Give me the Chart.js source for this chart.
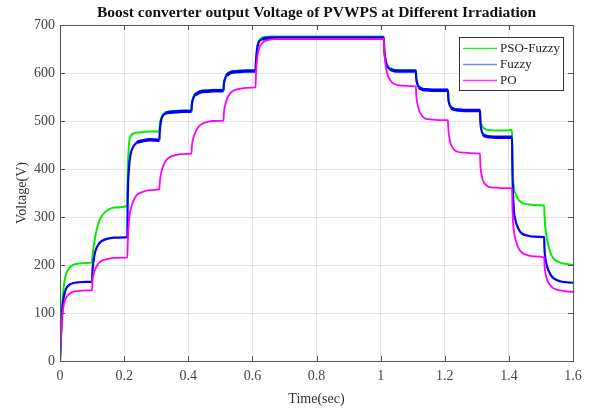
<!DOCTYPE html>
<html><head><meta charset="utf-8">
<script src="https://cdn.jsdelivr.net/npm/chart.js@4/dist/chart.umd.min.js"></script>
<style>html,body{margin:0;padding:0;background:#fff}#wrap{width:595px;height:410px;position:relative}</style>
</head><body><div id="wrap"><canvas id="c" width="595" height="410"></canvas></div>
<script>
const chartTitle = 'Boost converter output Voltage of PVWPS at Different Irradiation';
const xTitle = 'Time(sec)';
const yTitle = 'Voltage(V)';
const seriesNames = ['PSO-Fuzzy', 'Fuzzy', 'PO'];
const seriesColors = ['#00ee00', '#0000ff', '#ff00ff'];
const legendColors = ['#33e633', '#8080ff', '#ff33ff'];
const xTickValues = [0, 0.2, 0.4, 0.6, 0.8, 1, 1.2, 1.4, 1.6];
const xTickLabels = ['0', '0.2', '0.4', '0.6', '0.8', '1', '1.2', '1.4', '1.6'];
const yTickValues = [0, 100, 200, 300, 400, 500, 600, 700];

const times = [
  0, 0.003, 0.006, 0.01, 0.015, 0.02, 0.03, 0.04, 0.06, 0.08, 0.1,
  0.101, 0.105, 0.11, 0.12, 0.13, 0.15, 0.17, 0.21,
  0.211, 0.215, 0.22, 0.23, 0.24, 0.26, 0.28, 0.31,
  0.311, 0.315, 0.32, 0.33, 0.34, 0.36, 0.38, 0.41,
  0.411, 0.415, 0.42, 0.43, 0.44, 0.46, 0.48, 0.51,
  0.511, 0.515, 0.52, 0.53, 0.54, 0.56, 0.58, 0.61,
  0.611, 0.615, 0.62, 0.63, 0.64, 0.66, 0.68, 1.01,
  1.011, 1.015, 1.02, 1.03, 1.04, 1.06, 1.08, 1.11,
  1.111, 1.115, 1.12, 1.13, 1.14, 1.16, 1.18, 1.21,
  1.211, 1.215, 1.22, 1.23, 1.24, 1.26, 1.28, 1.31,
  1.311, 1.315, 1.32, 1.33, 1.34, 1.36, 1.38, 1.41,
  1.411, 1.415, 1.42, 1.43, 1.44, 1.46, 1.48, 1.51,
  1.511, 1.515, 1.52, 1.53, 1.54, 1.56, 1.58, 1.6
];
const psoFuzzy = [
  0, 60, 110, 145, 170, 183, 195, 200, 203, 204, 205,
  215, 238, 260, 287, 302, 315, 320, 323,
  380, 450, 468, 474, 476, 477, 478, 478,
  490, 505, 513, 518, 520, 521, 522, 522,
  535, 548, 555, 560, 563, 564, 565, 565,
  578, 590, 597, 602, 604, 605, 606, 606,
  625, 655, 667, 673, 675, 676, 676, 676,
  655, 630, 618, 610, 607, 606, 606, 606,
  592, 578, 572, 567, 566, 565, 565, 565,
  550, 536, 530, 525, 524, 523, 523, 523,
  505, 492, 486, 482, 481, 480, 480, 481,
  420, 365, 350, 336, 330, 326, 325, 324,
  305, 270, 250, 225, 213, 205, 202, 200
];
const fuzzy = [
  0, 50, 95, 125, 143, 152, 159, 162, 164, 165, 165,
  185, 210, 228, 243, 250, 255, 257, 258,
  330, 400, 430, 448, 455, 459, 461, 460,
  475, 500, 510, 516, 518, 519, 520, 520,
  532, 546, 553, 558, 561, 562, 563, 563,
  575, 588, 595, 600, 602, 603, 604, 604,
  620, 650, 664, 670, 672, 673, 673, 673,
  653, 628, 615, 608, 605, 604, 604, 604,
  590, 576, 570, 566, 565, 564, 564, 564,
  548, 534, 528, 524, 523, 522, 522, 522,
  500, 480, 472, 468, 467, 466, 466, 466,
  400, 320, 295, 275, 266, 261, 259, 258,
  235, 210, 195, 180, 172, 166, 164, 163
];
const po = [
  0, 45, 85, 110, 125, 133, 140, 144, 146, 147, 147,
  165, 180, 192, 203, 209, 213, 215, 216,
  240, 290, 315, 335, 346, 353, 356, 358,
  370, 390, 403, 417, 424, 429, 431, 432,
  445, 462, 473, 486, 493, 498, 500, 501,
  515, 533, 545, 557, 563, 567, 569, 570,
  595, 630, 650, 662, 667, 670, 671, 671,
  650, 620, 600, 585, 578, 574, 573, 572,
  555, 535, 522, 510, 505, 503, 502, 502,
  485, 462, 450, 440, 436, 434, 433, 432,
  410, 388, 375, 366, 362, 361, 360, 360,
  320, 275, 255, 235, 226, 220, 218, 216,
  200, 180, 168, 157, 151, 147, 145, 144
];

const SERIF = "'Liberation Serif', 'Times New Roman', serif";
const seriesValues = [psoFuzzy, fuzzy, po];
const widths = [2, 2.2, 1.8];
const datasets = seriesNames.map((name, k) => ({
  label: name,
  data: times.map((t, i) => ({x: t, y: seriesValues[k][i]})),
  borderColor: seriesColors[k],
  backgroundColor: seriesColors[k],
  borderWidth: widths[k],
  pointRadius: 0,
  fill: false,
  cubicInterpolationMode: 'monotone',
  order: 3 - k,
  segment: k === 1 ? {
    borderWidth: c => (c.p0.parsed.x >= 0.22 && c.p1.parsed.x <= 1.41 && Math.abs(c.p1.parsed.y - c.p0.parsed.y) < 6) ? 3.4 : 2.2
  } : undefined
}));

const decor = {
  id: 'decor',
  afterDraw(chart) {
    const ctx = chart.ctx, a = chart.chartArea;
    const xs = chart.scales.x, ys = chart.scales.y;
    ctx.save();
    ctx.strokeStyle = '#555';
    ctx.lineWidth = 1;
    ctx.strokeRect(Math.round(a.left) + 0.5, Math.round(a.top) + 0.5, Math.round(a.right - a.left), Math.round(a.bottom - a.top));
    ctx.beginPath();
    xTickValues.forEach(v => {
      const px = Math.round(xs.getPixelForValue(v)) + 0.5;
      ctx.moveTo(px, a.bottom); ctx.lineTo(px, a.bottom - 5);
      ctx.moveTo(px, a.top); ctx.lineTo(px, a.top + 5);
    });
    yTickValues.forEach(v => {
      const py = Math.round(ys.getPixelForValue(v)) + 0.5;
      ctx.moveTo(a.left, py); ctx.lineTo(a.left + 5, py);
      ctx.moveTo(a.right, py); ctx.lineTo(a.right - 5, py);
    });
    ctx.stroke();
    ctx.fillStyle = '#111';
    ctx.font = 'bold 15.5px ' + SERIF;
    ctx.textAlign = 'center';
    ctx.textBaseline = 'middle';
    ctx.fillText(chartTitle, (a.left + a.right) / 2, 13);
    const lx = 459, ly = 37, lw = 104, lh = 53;
    ctx.fillStyle = '#fff';
    ctx.fillRect(lx, ly, lw, lh);
    ctx.strokeStyle = '#333';
    ctx.strokeRect(lx + 0.5, ly + 0.5, lw, lh);
    ctx.font = '13px ' + SERIF;
    ctx.textAlign = 'left';
    seriesNames.forEach((n, k) => {
      const y = ly + 11 + k * 16;
      ctx.strokeStyle = legendColors[k];
      ctx.lineWidth = 1.5;
      ctx.beginPath(); ctx.moveTo(lx + 4, y + 0.5); ctx.lineTo(lx + 38, y + 0.5); ctx.stroke();
      ctx.fillStyle = '#222';
      ctx.fillText(n, lx + 41, y + 1);
    });
    ctx.restore();
  }
};

new Chart(document.getElementById('c'), {
  type: 'line',
  data: {datasets},
  options: {
    responsive: false,
    devicePixelRatio: 1,
    animation: false,
    layout: {padding: {top: 25, right: 22, bottom: 0, left: 0}},
    plugins: {legend: {display: false}, title: {display: false}, tooltip: {enabled: false}},
    scales: {
      x: {
        type: 'linear', min: 0, max: 1.6,
        afterFit: s => { s.height = 49; },
        afterBuildTicks: s => { s.ticks = xTickValues.map(v => ({value: v})); },
        ticks: {
          callback: (v) => { const i = xTickValues.findIndex(t => Math.abs(t - v) < 1e-9); return i >= 0 ? xTickLabels[i] : ''; },
          font: {family: SERIF, size: 14}, color: '#444', padding: 7, maxRotation: 0, autoSkip: false
        },
        grid: {color: '#e2e2e2', lineWidth: 1, drawTicks: false},
        border: {display: false},
        title: {display: true, text: xTitle, font: {family: SERIF, size: 14}, color: '#333', padding: {top: 0, bottom: 2}}
      },
      y: {
        type: 'linear', min: 0, max: 700,
        afterFit: s => { s.width = 60; },
        afterBuildTicks: s => { s.ticks = yTickValues.map(v => ({value: v})); },
        ticks: {font: {family: SERIF, size: 14}, color: '#444', padding: 5, autoSkip: false},
        grid: {color: '#e2e2e2', lineWidth: 1, drawTicks: false},
        border: {display: false},
        title: {display: true, text: yTitle, font: {family: SERIF, size: 14}, color: '#333', padding: {top: 14, bottom: 0}}
      }
    }
  },
  plugins: [decor]
});
</script>
</body></html>
